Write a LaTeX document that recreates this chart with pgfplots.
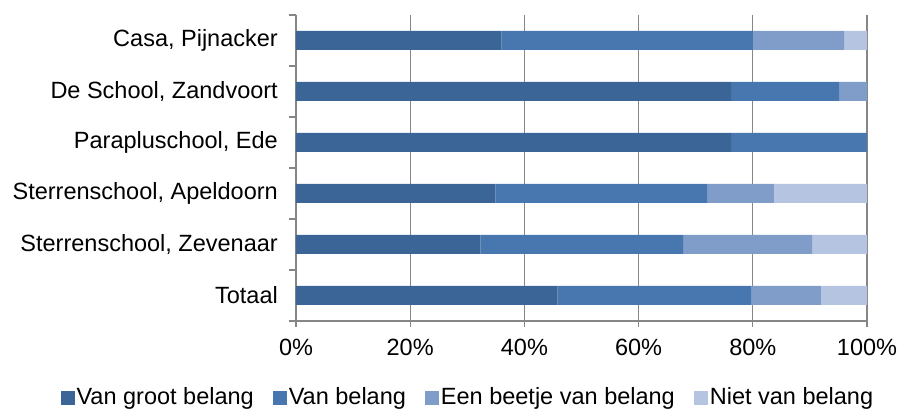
\documentclass[border=0pt]{standalone}
\usepackage{pgfplots}
\pgfplotsset{compat=1.18}
\usepackage{fontspec}
\setmainfont{Liberation Sans}
\definecolor{c1}{RGB}{60,101,151}
\definecolor{c2}{RGB}{72,119,175}
\definecolor{c3}{RGB}{127,157,200}
\definecolor{c4}{RGB}{181,196,224}
\definecolor{axgray}{RGB}{134,134,134}
\begin{document}
\fontsize{23.5}{27}\selectfont
\begin{tikzpicture}
\begin{axis}[
  name=ax,
  scale only axis,
  width=571pt, height=306pt,
  xbar stacked, bar width=19pt,
  xmin=0, xmax=100, ymin=-0.5, ymax=5.5,
  axis x line*=bottom, axis y line*=left,
  axis line style={axgray, line width=1.3pt},
  xtick={0,20,40,60,80,100},
  xticklabels={0\%,20\%,40\%,60\%,80\%,100\%},
  xmajorgrids, major grid style={axgray, line width=1.3pt},
  x tick style={axgray, line width=1.3pt},
  tick align=outside, major tick length=6pt,
  ytick={0,1,2,3,4,5},
  yticklabels={Totaal,{Sterrenschool, Zevenaar},{Sterrenschool, Apeldoorn},{Parapluschool, Ede},{De School, Zandvoort},{Casa, Pijnacker}},
  y tick style={draw=none},
  minor ytick={-0.5,0.5,1.5,2.5,3.5,4.5,5.5},
  minor y tick style={axgray, line width=1.3pt, draw=axgray},
  minor tick length=7pt,
  ticklabel style={font=\fontsize{23.5}{27}\selectfont},
  yticklabel style={inner sep=0pt, xshift=-12pt},
  xticklabel style={inner sep=0pt, yshift=-12pt},
  legend style={at={(0.301,-0.252)}, anchor=center, draw=none, legend columns=4,
    font=\fontsize{23.5}{27}\selectfont, /tikz/every even column/.append style={column sep=17pt},
    nodes={inner sep=2pt}},
  legend image code/.code={\fill[#1] (0pt,-7pt) rectangle (14pt,7pt);},
  every axis plot/.append style={draw=none},
]
\addplot[fill=c1] coordinates {(45.8,0) (32.3,1) (34.9,2) (76.2,3) (76.2,4) (36,5)};
\addplot[fill=c2] coordinates {(34.0,0) (35.5,1) (37.2,2) (23.8,3) (19.0,4) (44,5)};
\addplot[fill=c3] coordinates {(12.1,0) (22.6,1) (11.6,2) (0,3) (4.8,4) (16,5)};
\addplot[fill=c4] coordinates {(8.1,0) (9.6,1) (16.3,2) (0,3) (0,4) (4,5)};
\legend{Van groot belang, Van belang, Een beetje van belang, Niet van belang}
\end{axis}
\path ([xshift=-296pt,yshift=-90pt]ax.south west) rectangle ([xshift=32pt,yshift=15pt]ax.north east);
\end{tikzpicture}
\end{document}
